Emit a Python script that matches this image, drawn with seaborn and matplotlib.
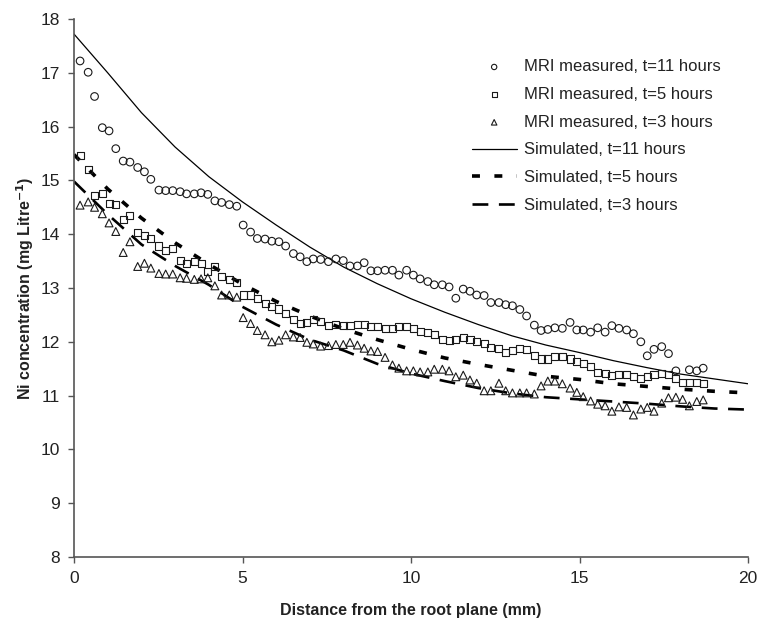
import numpy as np
import pandas as pd
import matplotlib
matplotlib.use("Agg")
import matplotlib.pyplot as plt
import seaborn as sns

# ---------------- data ----------------
x_measured = [0.18, 0.42, 0.61, 0.84, 1.04, 1.24, 1.46, 1.66, 1.89, 2.09,
              2.28, 2.52, 2.72, 2.93, 3.15, 3.34, 3.57, 3.77, 3.97, 4.18,
              4.38, 4.61, 4.83, 5.02, 5.24, 5.44, 5.67, 5.87, 6.08, 6.28,
              6.51, 6.71, 6.91, 7.10, 7.32, 7.55, 7.77, 7.99, 8.19, 8.41,
              8.61, 8.81, 9.01, 9.23, 9.45, 9.64, 9.87, 10.07, 10.27, 10.50,
              10.69, 10.93, 11.13, 11.33, 11.55, 11.75, 11.95, 12.17, 12.37, 12.61,
              12.81, 13.01, 13.23, 13.43, 13.66, 13.86, 14.06, 14.27, 14.49, 14.72,
              14.92, 15.11, 15.33, 15.54, 15.76, 15.96, 16.17, 16.40, 16.60, 16.82,
              17.01, 17.21, 17.44, 17.64, 17.86, 18.06, 18.26, 18.48, 18.67]

mri_11h = [17.22, 17.01, 16.56, 15.98, 15.92, 15.59, 15.36, 15.34, 15.24, 15.16,
           15.02, 14.82, 14.81, 14.81, 14.79, 14.75, 14.75, 14.77, 14.74, 14.62,
           14.59, 14.55, 14.52, 14.17, 14.04, 13.92, 13.91, 13.87, 13.86, 13.78,
           13.64, 13.58, 13.49, 13.54, 13.53, 13.49, 13.54, 13.51, 13.41, 13.41,
           13.47, 13.32, 13.32, 13.33, 13.33, 13.24, 13.33, 13.24, 13.17, 13.12,
           13.06, 13.06, 13.02, 12.81, 12.98, 12.94, 12.87, 12.86, 12.73, 12.73,
           12.69, 12.67, 12.60, 12.48, 12.31, 12.21, 12.23, 12.26, 12.25, 12.36,
           12.22, 12.22, 12.18, 12.26, 12.18, 12.30, 12.25, 12.22, 12.15, 12.00,
           11.74, 11.86, 11.91, 11.78, 11.46, np.nan, 11.48, 11.46, 11.51]

mri_5h = [15.46, 15.20, 14.72, 14.76, 14.57, 14.56, 14.28, 14.34, 14.04, 13.97,
          13.92, 13.78, 13.69, 13.74, 13.51, 13.46, 13.49, 13.46, 13.30, 13.40,
          13.22, 13.16, 13.11, 12.87, 12.87, 12.81, 12.72, 12.65, 12.61, 12.52,
          12.42, 12.34, 12.36, 12.41, 12.37, 12.30, 12.33, 12.30, 12.30, 12.33,
          12.33, 12.28, 12.28, 12.24, 12.24, 12.28, 12.28, 12.24, 12.19, 12.18,
          12.13, 12.05, 12.02, 12.05, 12.08, 12.05, 12.01, 11.96, 11.90, 11.87,
          11.80, 11.83, 11.87, 11.85, 11.74, 11.68, 11.68, 11.72, 11.72, 11.68,
          11.64, 11.60, 11.54, 11.43, 11.41, 11.37, 11.40, 11.40, 11.35, 11.31,
          11.35, 11.40, 11.41, 11.40, 11.31, 11.25, 11.25, 11.25, 11.23]

mri_3h = [14.54, 14.60, 14.50, 14.38, 14.21, 14.05, 13.66, 13.86, 13.40, 13.46,
          13.37, 13.27, 13.26, 13.26, 13.19, 13.18, 13.16, 13.17, 13.19, 13.04,
          12.87, 12.87, 12.83, 12.45, 12.34, 12.21, 12.13, 12.00, 12.03, 12.13,
          12.09, 12.08, 11.99, 11.96, 11.92, 11.93, 11.95, 11.95, 11.99, 11.94,
          11.88, 11.83, 11.82, 11.71, 11.57, 11.51, 11.46, 11.46, 11.44, 11.44,
          11.49, 11.49, 11.46, 11.35, 11.38, 11.29, 11.23, 11.09, 11.09, 11.23,
          11.09, 11.05, 11.05, 11.05, 11.03, 11.18, 11.27, 11.27, 11.22, 11.14,
          11.06, 10.98, 10.90, 10.84, 10.81, 10.71, 10.79, 10.78, 10.64, 10.75,
          10.78, 10.71, 10.86, 10.96, 10.97, 10.93, 10.81, 10.89, 10.92]

x_sim = [0, 1, 2, 3, 4, 5, 6, 7, 8, 9, 10, 11, 12, 13, 14, 15, 16, 17, 18, 19, 20]
sim_11h = [17.72, 17.00, 16.26, 15.62, 15.07, 14.60, 14.17, 13.76, 13.39, 13.08, 12.80,
           12.55, 12.32, 12.11, 11.94, 11.80, 11.65, 11.52, 11.40, 11.31, 11.22]
sim_5h = [15.48, 14.84, 14.30, 13.84, 13.44, 13.07, 12.75, 12.48, 12.24, 12.04, 11.86,
          11.70, 11.58, 11.47, 11.36, 11.30, 11.22, 11.17, 11.12, 11.08, 11.05]
sim_3h = [14.98, 14.37, 13.81, 13.41, 13.06, 12.65, 12.32, 12.04, 11.84, 11.59, 11.41,
          11.27, 11.14, 11.04, 10.97, 10.93, 10.89, 10.85, 10.80, 10.76, 10.74]

labels_meas = ["MRI measured, t=11 hours", "MRI measured, t=5 hours", "MRI measured, t=3 hours"]
labels_sim = ["Simulated, t=11 hours", "Simulated, t=5 hours", "Simulated, t=3 hours"]

# ---------------- style ----------------
sns.set_style("ticks")
plt.rcParams["font.family"] = ["Liberation Sans", "DejaVu Sans"]
plt.rcParams["axes.edgecolor"] = "#555555"
plt.rcParams["xtick.color"] = "#555555"
plt.rcParams["ytick.color"] = "#555555"
plt.rcParams["xtick.labelcolor"] = "#222222"
plt.rcParams["ytick.labelcolor"] = "#222222"

fig = plt.figure(figsize=(7.68, 6.18), dpi=100)
ax = fig.add_axes([74 / 768, 1 - 557 / 618, 674 / 768, 538 / 618])

ink = "#1a1a1a"
meas = [(mri_11h, "o", labels_meas[0]), (mri_5h, "s", labels_meas[1]), (mri_3h, "^", labels_meas[2])]
sizes = {"o": 30, "s": 26, "^": 32}
for yv, mk, lab in meas:
    df = pd.DataFrame({"x": x_measured, "y": yv}).dropna()
    sns.scatterplot(data=df, x="x", y="y", ax=ax, marker=mk, s=sizes[mk],
                    facecolor="none", edgecolor=ink, linewidth=0.8, label=lab, zorder=3)

sims = [(sim_11h, "-", 0.9, labels_sim[0]),
        (sim_5h, (0, (2.2, 4.0)), 2.6, labels_sim[1]),
        (sim_3h, (0, (6.0, 4.0)), 1.9, labels_sim[2])]
for yv, ls, lw, lab in sims:
    df = pd.DataFrame({"x": x_sim, "y": yv})
    sns.lineplot(data=df, x="x", y="y", ax=ax, color="black", linewidth=lw,
                 linestyle=ls, label=lab, zorder=2)

ax.set_xlim(0, 20)
ax.set_ylim(8, 18)
ax.set_xticks([0, 5, 10, 15, 20])
ax.set_yticks(list(range(8, 19)))
ax.tick_params(axis="both", labelsize=12.5, length=4, width=1, direction="out", pad=6)
for s in ["top", "right"]:
    ax.spines[s].set_visible(False)
for s in ["left", "bottom"]:
    ax.spines[s].set_linewidth(1.2)

ax.set_xlabel("Distance from the root plane (mm)", fontsize=11.5, fontweight="bold",
              color="#222222", labelpad=12)
ax.set_ylabel("Ni concentration (mg Litre$^{\\mathbf{-1}}$)", fontsize=11.5, fontweight="bold",
              color="#222222", labelpad=3)

leg = ax.legend(loc="upper left", bbox_to_anchor=(0.59, 0.925), frameon=False,
                fontsize=12, handlelength=2.7, handletextpad=0.42, labelspacing=0.76,
                borderpad=0, borderaxespad=0, markerscale=0.7)
for t in leg.get_texts():
    t.set_color("#222222")

fig.savefig("out.png", dpi=100)
